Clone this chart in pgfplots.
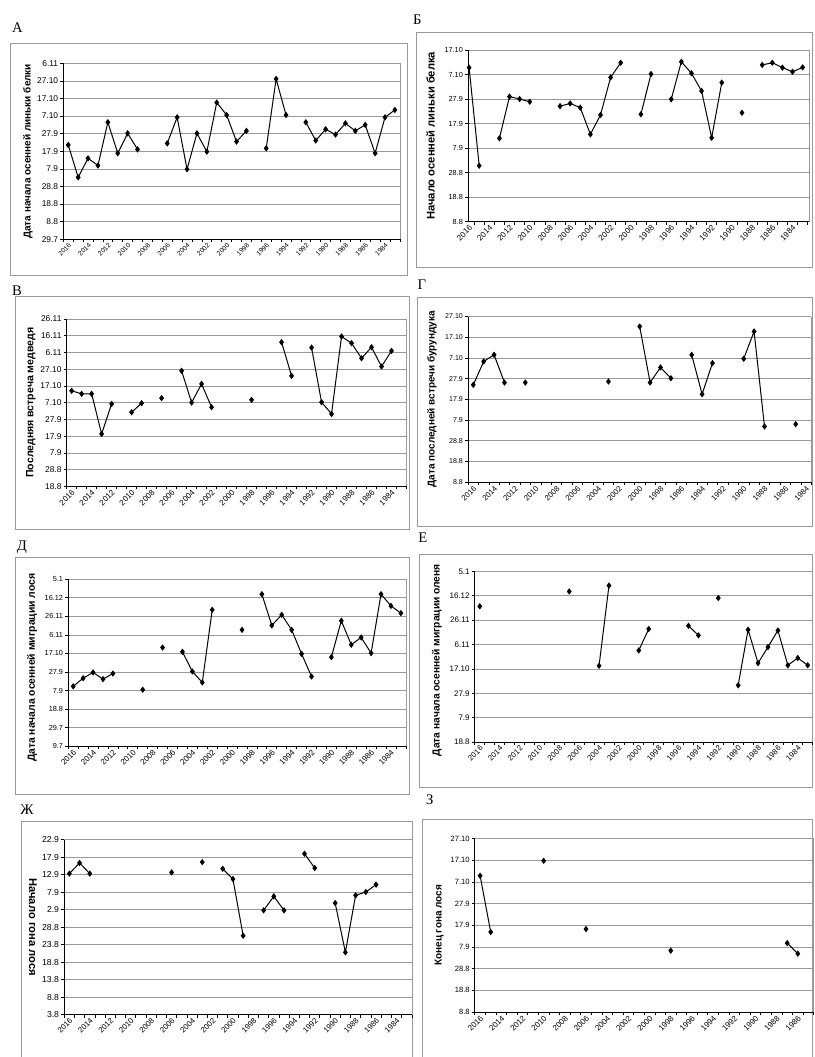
\documentclass[border=0pt]{standalone}
\usepackage{fontspec}
\setmainfont{Liberation Sans}
\newfontfamily\serif{Liberation Serif}
\usepackage{pgfplots}
\pgfplotsset{compat=1.18}
\newcommand{\fs}[1]{\fontsize{#1}{#1}\selectfont}
\pgfplotsset{
 panel/.style={
   scale only axis, anchor=north west, clip=false,
   xmin=-0.5, xmax=33.5, ymin=0,
   axis x line*=bottom, axis y line*=left,
   axis line style={black, line width=0.6pt},
   ymajorgrids, grid style={black!40, line width=0.5pt},
   xtick={0,2,...,32},
   xticklabels={2016,2014,2012,2010,2008,2006,2004,2002,2000,1998,1996,1994,1992,1990,1988,1986,1984},
   major x tick style={draw=none},
   minor xtick={-0.5,0.5,...,33.5},
   minor tick length=2.2pt, major tick length=2.2pt,
   tick align=outside,
   tick style={black, line width=0.5pt},
   xticklabel style={rotate=45, anchor=east, inner sep=0pt, yshift=-2pt, font=\fs{5.8}},
   yticklabel style={font=\fs{6}, inner sep=1.5pt},
   ylabel style={font=\bfseries\fs{7.5}, at={(axis description cs:-0.105,0.5)}, anchor=center},
   unbounded coords=jump,
 },
 dat/.style={black, line width=0.75pt, mark=diamond*, mark size=1.8pt, mark options={solid, fill=black}},
}
\begin{document}
\begin{tikzpicture}
\path[fill=white] (0,0) rectangle (611.25pt,-792.75pt);
% frames
\begin{scope}[black!40, line width=0.6pt]
\draw (7.5pt,-32.25pt) rectangle (306pt,-206.25pt);
\draw (312.75pt,-24pt) rectangle (609.75pt,-200.25pt);
\draw (11.25pt,-222.75pt) rectangle (307.5pt,-397.5pt);
\draw (313.5pt,-223.5pt) rectangle (609.75pt,-395.25pt);
\draw (11.25pt,-418.5pt) rectangle (307.5pt,-596.25pt);
\draw (315pt,-416.25pt) rectangle (609.75pt,-591pt);
\draw (15.75pt,-792.75pt) -- (15.75pt,-616.5pt) -- (309.75pt,-616.5pt) -- (309.75pt,-792.75pt);
\draw (317.25pt,-792.75pt) -- (317.25pt,-615pt) -- (609.75pt,-615pt) -- (609.75pt,-792.75pt);
\end{scope}
% letters
\begin{scope}[every node/.style={font=\serif\fs{11}, inner sep=0pt}]
\node at (13.1pt,-20.6pt) {А};
\node at (313.1pt,-15pt) {Б};
\node at (12.75pt,-218.25pt) {В};
\node at (316.5pt,-213.75pt) {Г};
\node at (16.5pt,-410.25pt) {Д};
\node at (317.25pt,-403.5pt) {Е};
\node at (20.25pt,-607.5pt) {Ж};
\node at (322.5pt,-600pt) {З};
\end{scope}

% A
\begin{axis}[panel, at={(47.5pt,-47.5pt)}, width=252.5pt, height=132pt, ymax=100,
  ytick={0,10,...,100}, yticklabels={29.7,8.8,18.8,28.8,7.9,17.9,27.9,7.10,17.10,27.10,6.11},
  ylabel={Дата начала осенней линьки белки},
  xticklabel style={font=\fs{5}}, yticklabel style={font=\fs{6.3}}]
\addplot[dat] coordinates {(0,53.6)(1,35.2)(2,46.0)(3,41.9)(4,66.5)(5,48.9)(6,60.2)(7,51.1)(8,nan)
 (10,54.5)(11,69.3)(12,39.8)(13,60.2)(14,49.8)(15,77.7)(16,70.6)(17,55.5)(18,61.6)(19,nan)
 (20,51.7)(21,91.1)(22,70.6)(23,nan)
 (24,66.5)(25,56.1)(26,62.5)(27,59.5)(28,65.9)(29,61.6)(30,65.0)(31,48.9)(32,69.3)(33,73.5)};
\draw[black!40, line width=0.5pt] (rel axis cs:1,0) -- (rel axis cs:1,1);
\end{axis}

% B
\begin{axis}[panel, at={(351.2pt,-37.5pt)}, width=256.3pt, height=128.8pt, xmin=-0.1, xmax=33.7, ymax=70,
  ytick={0,10,...,70}, yticklabels={8.8,18.8,28.8,7.9,17.9,27.9,7.10,17.10},
  ylabel={Начало осенней линьки белка}, ylabel style={font=\bfseries\fs{8.4}, at={(axis description cs:-0.11,0.5)}},
  xticklabel style={font=\fs{6}}, yticklabel style={font=\fs{5.5}}]
\addplot[dat] coordinates {(0,62.8)(1,22.8)(2,nan)(3,34.0)(4,51.0)(5,50.0)(6,48.9)(7,nan)
 (9,47.1)(10,48.2)(11,46.5)(12,35.6)(13,43.5)(14,58.8)(15,64.8)(16,nan)
 (17,43.8)(18,60.2)(19,nan)
 (20,49.9)(21,65.2)(22,60.5)(23,53.3)(24,34.2)(25,56.7)(26,nan)
 (27,44.4)(28,nan)
 (29,63.9)(30,64.8)(31,62.8)(32,61.1)(33,62.9)};
\draw[black!40, line width=0.5pt] (rel axis cs:1,0) -- (rel axis cs:1,1);
\end{axis}

% V
\begin{axis}[panel, at={(50pt,-239.25pt)}, width=255pt, height=125.75pt, ymax=100,
  ytick={0,10,...,100}, yticklabels={18.8,28.8,7.9,17.9,27.9,7.10,17.10,27.10,6.11,16.11,26.11},
  ylabel={Последняя встреча медведя}, ylabel style={font=\bfseries\fs{7.9}},
  xticklabel style={font=\fs{6}}, yticklabel style={font=\fs{6.3}}]
\addplot[dat] coordinates {(0,57.1)(1,55.3)(2,55.3)(3,31.4)(4,49.3)(5,nan)
 (6,44.3)(7,49.7)(8,nan)
 (9,52.7)(10,nan)
 (11,69.0)(12,50.1)(13,61.2)(14,47.3)(15,nan)
 (18,51.7)(19,nan)
 (21,86.1)(22,66.0)(23,nan)
 (24,82.9)(25,50.3)(26,43.3)(27,89.5)(28,85.5)(29,76.5)(30,83.1)(31,71.6)(32,80.9)};
\draw[black!40, line width=0.5pt] (rel axis cs:1,0) -- (rel axis cs:1,1);
\end{axis}

% G
\begin{axis}[panel, at={(351.2pt,-237.5pt)}, width=257.5pt, height=124.2pt, xmax=32.5, ymax=80,
  minor xtick={-0.5,0.5,...,32.5},
  ytick={0,10,...,80}, yticklabels={8.8,18.8,28.8,7.9,17.9,27.9,7.10,17.10,27.10},
  ylabel={Дата последней встречи бурундука},
  xticklabel style={font=\fs{5.8}}, yticklabel style={font=\fs{5.3}}]
\addplot[dat] coordinates {(0,47.0)(1,58.3)(2,61.5)(3,48.1)(4,nan)
 (5,48.1)(6,nan)
 (13,48.6)(14,nan)
 (16,75.2)(17,48.1)(18,55.4)(19,50.2)(20,nan)
 (21,61.5)(22,42.5)(23,57.5)(24,nan)
 (26,59.6)(27,72.8)(28,26.9)(29,nan)
 (31,28.0)};
\draw[black!40, line width=0.5pt] (rel axis cs:1,0) -- (rel axis cs:1,1);
\end{axis}

% D
\begin{axis}[panel, at={(51.2pt,-434.5pt)}, width=253.3pt, height=125.5pt, ymax=9,
  ytick={0,1,...,9}, yticklabels={9.7,29.7,18.8,7.9,27.9,17.10,6.11,26.11,16.12,5.1},
  ylabel={Дата начала осенней миграции лося}, ylabel style={font=\bfseries\fs{7.8}, at={(axis description cs:-0.107,0.47)}},
  xticklabel style={font=\fs{6}}, yticklabel style={font=\fs{5.5}}]
\addplot[dat] coordinates {(0,3.23)(1,3.67)(2,3.98)(3,3.62)(4,3.92)(5,nan)
 (7,3.05)(8,nan)
 (9,5.32)(10,nan)
 (11,5.09)(12,4.03)(13,3.44)(14,7.35)(15,nan)
 (17,6.27)(18,nan)
 (19,8.19)(20,6.51)(21,7.08)(22,6.27)(23,4.98)(24,3.76)(25,nan)
 (26,4.80)(27,6.76)(28,5.47)(29,5.86)(30,5.02)(31,8.19)(32,7.56)(33,7.17)};
\draw[black!40, line width=0.5pt] (rel axis cs:1,0) -- (rel axis cs:1,1);
\end{axis}

% E
\begin{axis}[panel, at={(356.25pt,-428.75pt)}, width=253.5pt, height=128pt, ymax=7,
  ytick={0,1,...,7}, yticklabels={18.8,7.9,27.9,17.10,6.11,26.11,16.12,5.1},
  ylabel={Дата начала осенней миграции оленя}, ylabel style={font=\bfseries\fs{7.7}, at={(axis description cs:-0.112,0.48)}},
  xticklabel style={font=\fs{5.8}}, yticklabel style={font=\fs{6}}]
\addplot[dat] coordinates {(0,5.57)(1,nan)
 (9,6.18)(10,nan)
 (12,3.13)(13,6.42)(14,nan)
 (16,3.76)(17,4.64)(18,nan)
 (21,4.77)(22,4.38)(23,nan)
 (24,5.91)(25,nan)
 (26,2.33)(27,4.61)(28,3.24)(29,3.90)(30,4.58)(31,3.15)(32,3.45)(33,3.15)};
\draw[black!40, line width=0.5pt] (rel axis cs:1,0) -- (rel axis cs:1,1);
\end{axis}

% Zh
\begin{axis}[panel, at={(48.2pt,-630pt)}, width=260.8pt, height=131.25pt, ymax=10,
  ytick={0,1,...,10}, yticklabels={3.8,8.8,13.8,18.8,23.8,28.8,2.9,7.9,12.9,17.9,22.9},
  ylabel={Начало гона лося}, ylabel style={rotate=180, font=\bfseries\fs{8.4}, at={(axis description cs:-0.09,0.5)}},
  xticklabel style={font=\fs{5.8}}, yticklabel style={font=\fs{6.5}}]
\addplot[dat] coordinates {(0,8.06)(1,8.67)(2,8.06)(3,nan)
 (10,8.13)(11,nan)
 (13,8.72)(14,nan)
 (15,8.34)(16,7.75)(17,4.51)(18,nan)
 (19,5.96)(20,6.76)(21,5.96)(22,nan)
 (23,9.20)(24,8.38)(25,nan)
 (26,6.38)(27,3.56)(28,6.82)(29,7.01)(30,7.43)};
\draw[black!40, line width=0.5pt] (rel axis cs:1,0) -- (rel axis cs:1,1);
\end{axis}

% Z
\begin{axis}[panel, at={(356.25pt,-629.25pt)}, width=254.25pt, height=130pt, xmax=31.5, ymax=8,
  xtick={0,2,...,30}, xticklabels={2016,2014,2012,2010,2008,2006,2004,2002,2000,1998,1996,1994,1992,1990,1988,1986},
  minor xtick={-0.5,0.5,...,31.5},
  ytick={0,1,...,8}, yticklabels={8.8,18.8,28.8,7.9,17.9,27.9,7.10,17.10,27.10},
  ylabel={Конец гона лося},
  xticklabel style={font=\fs{6}}, yticklabel style={font=\fs{5.7}}]
\addplot[dat] coordinates {(0,6.29)(1,3.69)(2,nan)
 (6,6.98)(7,nan)
 (10,3.83)(11,nan)
 (18,2.83)(19,nan)
 (29,3.18)(30,2.69)};
\draw[black!40, line width=0.5pt] (rel axis cs:1,0) -- (rel axis cs:1,1);
\end{axis}
\end{tikzpicture}
\end{document}
